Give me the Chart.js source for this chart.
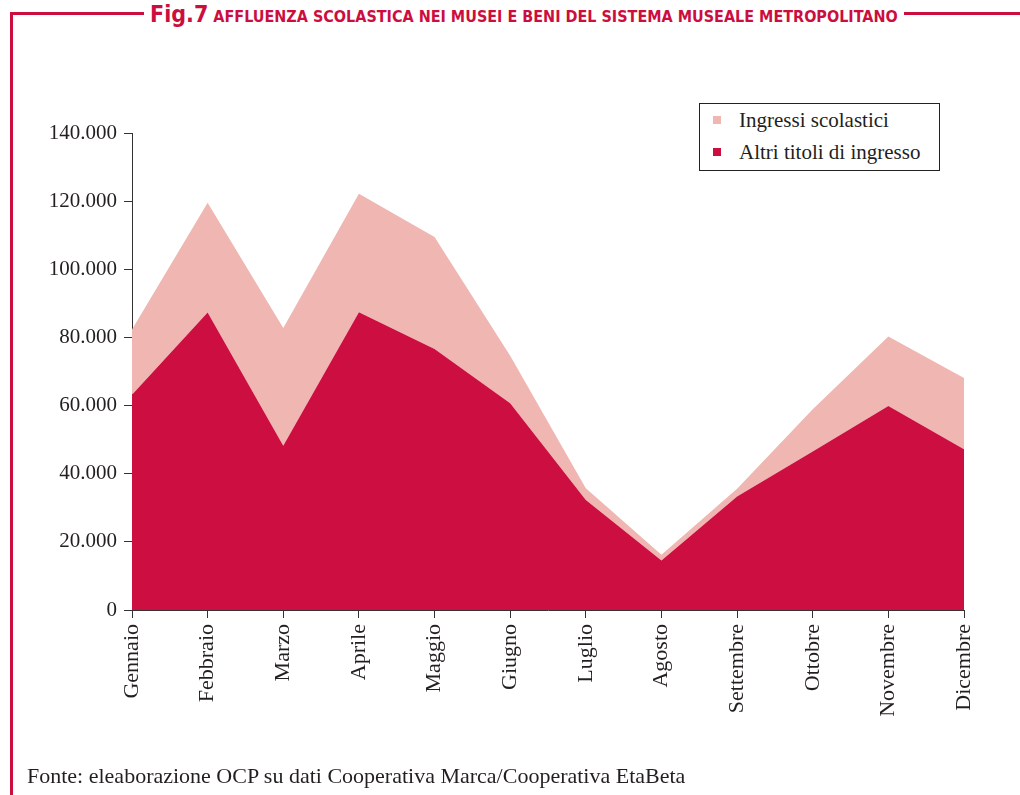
<!DOCTYPE html>
<html>
<head>
<meta charset="utf-8">
<script src="https://cdn.jsdelivr.net/npm/chart.js@4"></script>
<style>
  body { margin: 0; background: #fff; }
  #wrap { position: relative; width: 1020px; height: 795px; overflow: hidden; }
  #topline { position: absolute; left: 10px; top: 12px; width: 1010px; height: 3px; background: #cc0e3f; }
  #leftline { position: absolute; left: 10px; top: 12px; width: 3px; height: 783px; background: #cc0e3f; }
  #title { position: absolute; left: 144px; top: 0px; padding: 0 6px; background: #fff; color: #cc0e3f;
           font-family: "Liberation Sans Narrow", "DejaVu Sans Condensed", "DejaVu Sans"; font-stretch: condensed;
           font-weight: bold; white-space: nowrap; line-height: 28px; }
  #title .fig { font-size: 23px; }
  #title .rest { font-size: 16px; }
  #chartbox { position: absolute; left: 0; top: 0; width: 1020px; height: 795px; }
  #legend { position: absolute; left: 699px; top: 103px; width: 239px; height: 66px; border: 1px solid #222;
            background: #fff; font-family: "Liberation Serif", serif; font-size: 21px; color: #231f20; }
  #legend div { position: absolute; left: 13px; white-space: nowrap; }
  #legend span.sw { display: inline-block; width: 8px; height: 8px; margin-right: 18px; vertical-align: 3px; }
  #fonte { position: absolute; left: 27px; top: 763px; font-family: "Liberation Serif", serif; font-size: 22px; color: #231f20; white-space: nowrap; }
</style>
</head>
<body>
<div id="wrap">
  <div id="chartbox"><canvas id="myChart" width="1020" height="795"></canvas></div>
  <div id="topline"></div>
  <div id="leftline"></div>
  <div id="title"><span class="fig">Fig.7</span> <span class="rest">AFFLUENZA SCOLASTICA NEI MUSEI E BENI DEL SISTEMA MUSEALE METROPOLITANO</span></div>
  <div id="legend"></div>
  <div id="fonte">Fonte: eleaborazione OCP su dati Cooperativa Marca/Cooperativa EtaBeta</div>
</div>
<script>
var Mesi = ["Gennaio", "Febbraio", "Marzo", "Aprile", "Maggio", "Giugno",
            "Luglio", "Agosto", "Settembre", "Ottobre", "Novembre", "Dicembre"];
var Altri = [63200, 87300, 48200, 87400, 76600, 60700, 32300, 14500, 33300, 46500, 59900, 47200];
var Scolastici = [19100, 32200, 34600, 34800, 32900, 13900, 3400, 1700, 2300, 12400, 20400, 20900];
var TickValues = [0, 20000, 40000, 60000, 80000, 100000, 120000, 140000];

var rosso = "rgb(204, 14, 64)";
var rosa = "rgb(239, 182, 178)";
var testo = "#231f20";

var ctx = document.getElementById("myChart").getContext("2d");
var myChart = new Chart(ctx, {
  type: "line",
  data: {
    labels: Mesi,
    datasets: [
      {
        label: "Altri titoli di ingresso",
        data: Altri,
        backgroundColor: rosso,
        borderWidth: 0,
        pointRadius: 0,
        fill: "origin",
      },
      {
        label: "Ingressi scolastici",
        data: Scolastici,
        backgroundColor: rosa,
        borderWidth: 0,
        pointRadius: 0,
        fill: "-1",
      },
    ],
  },
  options: {
    responsive: false,
    animation: false,
    layout: { padding: { top: 133, right: 56, left: 0, bottom: 0 } },
    plugins: { legend: { display: false }, tooltip: { enabled: false } },
    scales: {
      x: {
        offset: false,
        grid: { drawOnChartArea: false, tickLength: 8, color: "#333", tickColor: "#333" },
        border: { color: "#333", width: 1 },
        ticks: {
          minRotation: 90, maxRotation: 90, padding: 6, color: testo,
          font: { family: "Liberation Serif", size: 22 },
        },
        afterFit: function (scale) { scale.height = 795 - 610; },
      },
      y: {
        stacked: true,
        min: 0,
        max: 140000,
        grid: { drawOnChartArea: false, tickLength: 8, color: "#333", tickColor: "#333" },
        border: { color: "#333", width: 1 },
        afterBuildTicks: function (scale) {
          scale.ticks = TickValues.map(function (v) { return { value: v }; });
        },
        ticks: {
          padding: 7, color: testo,
          font: { family: "Liberation Serif", size: 21 },
          callback: function (v) { return v.toLocaleString("it-IT"); },
        },
        afterFit: function (scale) { scale.width = 132; },
      },
    },
  },
});

// legenda: prima scolastici poi altri
var leg = document.getElementById("legend");
var order = [1, 0];
for (var i = 0; i < order.length; i++) {
  var ds = myChart.data.datasets[order[i]];
  var row = document.createElement("div");
  row.style.top = (4 + i * 32) + "px";
  row.innerHTML = '<span class="sw" style="background:' + ds.backgroundColor + '"></span>' + ds.label;
  leg.appendChild(row);
}
</script>
</body>
</html>
